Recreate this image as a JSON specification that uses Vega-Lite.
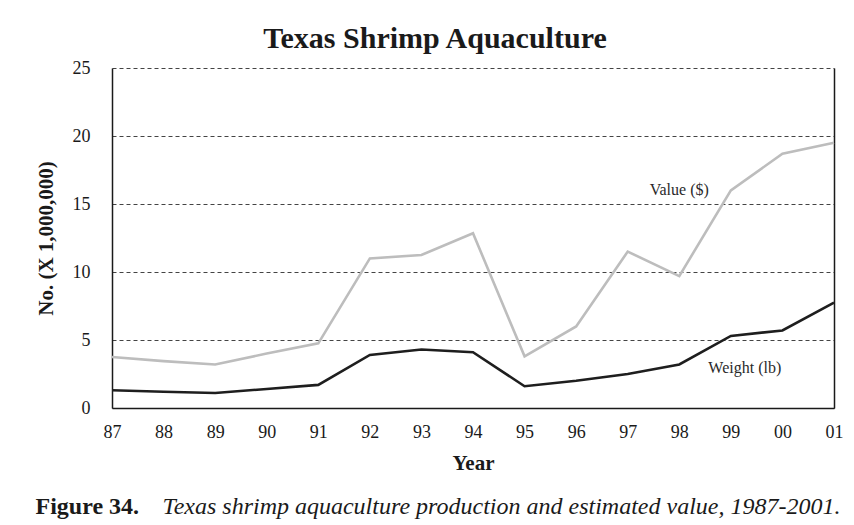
{
  "$schema": "https://vega.github.io/schema/vega-lite/v6.json",
  "width": 722,
  "height": 340,
  "autosize": {"type": "none"},
  "padding": {"left": 112, "top": 68, "right": 20, "bottom": 117},
  "background": "white",
  "title": {
    "text": "Texas Shrimp Aquaculture",
    "font": "Liberation Serif",
    "fontSize": 30,
    "fontWeight": "bold",
    "color": "#1a1a1a",
    "anchor": "middle",
    "dx": -38,
    "baseline": "alphabetic",
    "offset": -19
  },
  "config": {"view": {"stroke": null}},
  "datasets": {
    "series": [
      {"year": 1987, "series": "Value", "value": 3.75},
      {"year": 1988, "series": "Value", "value": 3.45},
      {"year": 1989, "series": "Value", "value": 3.2},
      {"year": 1990, "series": "Value", "value": 4.0},
      {"year": 1991, "series": "Value", "value": 4.75},
      {"year": 1992, "series": "Value", "value": 11.0},
      {"year": 1993, "series": "Value", "value": 11.25},
      {"year": 1994, "series": "Value", "value": 12.85},
      {"year": 1995, "series": "Value", "value": 3.8},
      {"year": 1996, "series": "Value", "value": 6.0},
      {"year": 1997, "series": "Value", "value": 11.5},
      {"year": 1998, "series": "Value", "value": 9.7},
      {"year": 1999, "series": "Value", "value": 16.0},
      {"year": 2000, "series": "Value", "value": 18.7},
      {"year": 2001, "series": "Value", "value": 19.5},
      {"year": 1987, "series": "Weight", "value": 1.3},
      {"year": 1988, "series": "Weight", "value": 1.2},
      {"year": 1989, "series": "Weight", "value": 1.1},
      {"year": 1990, "series": "Weight", "value": 1.4},
      {"year": 1991, "series": "Weight", "value": 1.7},
      {"year": 1992, "series": "Weight", "value": 3.9},
      {"year": 1993, "series": "Weight", "value": 4.3},
      {"year": 1994, "series": "Weight", "value": 4.1},
      {"year": 1995, "series": "Weight", "value": 1.6},
      {"year": 1996, "series": "Weight", "value": 2.0},
      {"year": 1997, "series": "Weight", "value": 2.5},
      {"year": 1998, "series": "Weight", "value": 3.2},
      {"year": 1999, "series": "Weight", "value": 5.3},
      {"year": 2000, "series": "Weight", "value": 5.7},
      {"year": 2001, "series": "Weight", "value": 7.75}
    ],
    "labels": [
      {"year": 1998.0, "value": 16.0, "label": "Value ($)"},
      {"year": 1999.27, "value": 2.95, "label": "Weight (lb)"}
    ]
  },
  "layer": [
    {
      "data": {"name": "series"},
      "mark": {"type": "line", "strokeWidth": 2.6},
      "encoding": {
        "x": {
          "field": "year",
          "type": "quantitative",
          "scale": {"domain": [1987, 2001], "nice": false, "zero": false},
          "axis": {
            "orient": "bottom",
            "values": [1987, 1988, 1989, 1990, 1991, 1992, 1993, 1994, 1995, 1996, 1997, 1998, 1999, 2000, 2001],
            "format": "d",
            "labelExpr": "substring(datum.label, 2)",
            "grid": false,
            "ticks": false,
            "domainColor": "#1a1a1a",
            "domainWidth": 1.5,
            "labelFont": "Liberation Serif",
            "labelFontSize": 18,
            "labelColor": "#1a1a1a",
            "labelPadding": 15,
            "labelDx": -6,
            "labelFlush": false,
            "labelOverlap": false,
            "title": "Year",
            "titleFont": "Liberation Serif",
            "titleFontSize": 21,
            "titleFontWeight": "bold",
            "titleColor": "#1a1a1a",
            "titleX": 361,
            "titleY": 61,
            "titleAlign": "center",
            "titleBaseline": "alphabetic"
          }
        },
        "y": {
          "field": "value",
          "type": "quantitative",
          "scale": {"domain": [0, 25], "nice": false},
          "axis": {
            "orient": "left",
            "values": [0, 5, 10, 15, 20, 25],
            "grid": true,
            "gridDash": [4, 3],
            "gridColor": "#444444",
            "gridWidth": 1,
            "ticks": false,
            "domainColor": "#1a1a1a",
            "domainWidth": 1.5,
            "labelFont": "Liberation Serif",
            "labelFontSize": 18,
            "labelColor": "#1a1a1a",
            "labelPadding": 22,
            "labelFlush": false,
            "title": "No. (X 1,000,000)",
            "titleFont": "Liberation Serif",
            "titleFontSize": 21,
            "titleFontWeight": "bold",
            "titleColor": "#1a1a1a",
            "titleAngle": -90,
            "titleX": -60,
            "titleY": 170,
            "titleAlign": "center",
            "titleBaseline": "alphabetic"
          }
        },
        "color": {
          "field": "series",
          "type": "nominal",
          "scale": {"domain": ["Value", "Weight"], "range": ["#bdbdbd", "#1e1e1e"]},
          "legend": null
        }
      }
    },
    {
      "data": {"name": "labels"},
      "mark": {"type": "text", "font": "Liberation Serif", "fontSize": 16, "color": "#2a2a2a", "align": "center", "baseline": "middle"},
      "encoding": {
        "x": {
          "field": "year",
          "type": "quantitative",
          "axis": {
            "orient": "top",
            "labels": false,
            "ticks": false,
            "domain": false,
            "grid": false,
            "title": "Figure 34.",
            "titleFont": "Liberation Serif",
            "titleFontSize": 24,
            "titleFontWeight": "bold",
            "titleColor": "#1a1a1a",
            "titleX": -77,
            "titleY": 445,
            "titleAlign": "left",
            "titleBaseline": "alphabetic"
          }
        },
        "y": {
          "field": "value",
          "type": "quantitative",
          "axis": {
            "orient": "right",
            "labels": false,
            "ticks": false,
            "grid": false,
            "domain": true,
            "domainColor": "#1a1a1a",
            "domainWidth": 1.5,
            "title": "Texas shrimp aquaculture production and estimated value, 1987-2001.",
            "titleFont": "Liberation Serif",
            "titleFontSize": 24,
            "titleFontWeight": "normal",
            "titleFontStyle": "italic",
            "titleColor": "#1a1a1a",
            "titleAngle": 0,
            "titleX": -672,
            "titleY": 445,
            "titleAlign": "left",
            "titleBaseline": "alphabetic"
          }
        },
        "text": {"field": "label"}
      }
    }
  ],
  "resolve": {"scale": {"x": "shared", "y": "shared"}, "axis": {"x": "independent", "y": "independent"}}
}
